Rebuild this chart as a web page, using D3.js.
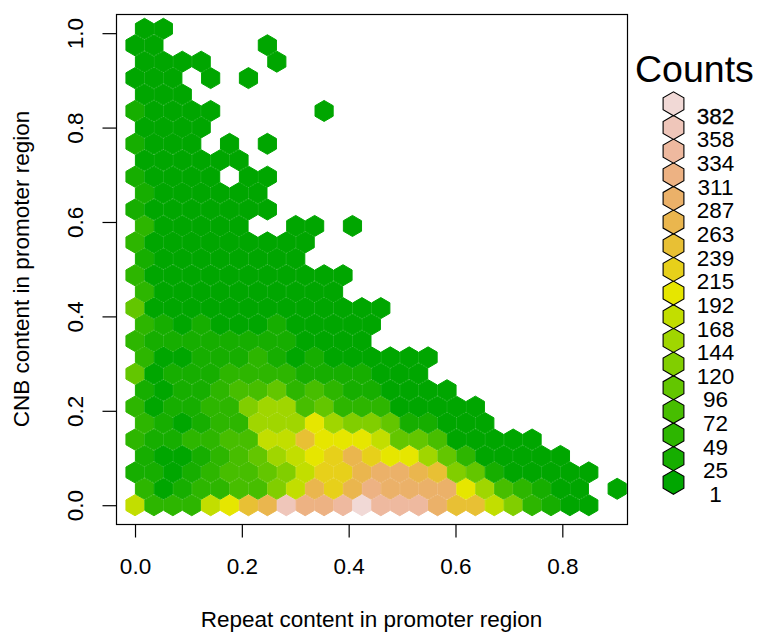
<!DOCTYPE html>
<html>
<head>
<meta charset="utf-8">
<script src="https://cdn.jsdelivr.net/npm/d3@7"></script>
<style>
html,body{margin:0;padding:0;background:#fff;}
text{font-family:"Liberation Sans",Arial,sans-serif;fill:#000;}
</style>
</head>
<body>
<div id="canvas"></div>
<script>
// bin size in data units, column/row of a cell gives its centre
var binWidth = 0.0354,
    binHeight = 0.0348;

var xTicks = [0,0.2,0.4,0.6,0.8];
var yTicks = [0,0.2,0.4,0.6,0.8,1];

// legend breaks, lowest first
var countLabels = [1,25,49,72,96,120,144,168,192,215,239,263,287,311,334,358,382];
var countColors = ['#00A600','#16AE00','#2DB600','#47BE00','#63C600','#81CE00','#A0D600','#C2DE00','#E6E600',
    '#E7D01A','#E8C034','#EAB64E','#EBB169','#EDB283','#EEB99F','#EFC6BA','#F1D9D6'];

// counts per hexagon, rows[0] is the bottom row, 0 = empty cell
var rows = [
    [180,60,60,60,180,204,251,275,370,322,322,346,390,346,346,346,299,251,251,180,132,60,37,12,12],
    [60,12,37,60,60,84,84,132,180,275,227,275,322,299,299,299,299,204,156,84,60,37,12,12,0,12],
    [37,37,12,37,60,84,84,108,132,180,227,227,275,299,299,275,251,132,108,37,12,12,12,12,12],
    [37,12,12,37,60,84,108,156,180,204,227,275,227,204,204,156,108,60,12,12,12,12,12],
    [60,37,37,60,60,84,84,180,180,251,204,204,204,180,108,108,84,12,12,12,12,12],
    [60,37,12,37,60,60,156,156,156,204,156,132,132,108,37,37,12,12,12],
    [60,12,37,37,60,60,132,156,156,84,108,60,60,60,12,12,12,12,12],
    [37,12,37,37,60,84,84,108,60,84,60,37,37,12,12,12,12],
    [108,12,37,37,37,60,60,60,60,37,37,37,37,12,12,12],
    [60,12,12,37,37,37,60,37,12,37,12,12,12,12,12,12],
    [60,37,37,37,37,37,37,37,37,12,12,12,12],
    [60,37,12,37,12,12,12,37,12,12,12,12,12],
    [108,12,12,12,12,12,12,12,12,12,12,12,12,12],
    [60,12,12,12,12,12,12,12,12,12,12],
    [60,12,12,12,12,12,12,12,12,12,12,12],
    [37,12,12,12,12,12,12,12,12],
    [60,12,12,12,12,12,12,12,12,12],
    [60,12,12,12,12,12,0,0,12,12,0,12],
    [37,12,12,12,12,12,12,12],
    [37,12,12,12,12,12,12],
    [37,12,12,12,12,0,12,12],
    [12,12,12,12,12,12],
    [37,12,12,12,0,12,0,12],
    [12,12,12,12],
    [37,12,12,12,12,0,0,0,0,0,12],
    [12,12,12],
    [12,12,12,0,12,0,12],
    [12,12,12,12,0,0,0,12],
    [12,12,0,0,0,0,0,12],
    [12,12]
];

var m = {t:14,r:132,b:113,l:116};
var outerWidth = 759,
    outerHeight = 637;
var w = outerWidth - m.l - m.r,
    h = outerHeight - m.t - m.b;

var svg = d3.select('#canvas')
    .append('svg')
    .attr('width',outerWidth)
    .attr('height',outerHeight)
    .style('display','block');

var plot = svg.append('g')
    .attr('transform','translate(' + m.l + ',' + m.t + ')');

var scaleX = d3.scaleLinear().domain([-0.0356,0.9211]).range([0,w]);
var scaleY = d3.scaleLinear().domain([-0.0398,1.0406]).range([h,0]);
var scaleColor = d3.scaleThreshold().domain(countLabels.slice(1)).range(countColors);

// flatten the rows into cells
var cells = [];
rows.forEach(function(row,r){
    row.forEach(function(count,c){
        if(count > 0){
            cells.push({x:(c + (r % 2) / 2) * binWidth, y:r * binHeight, count:count});
        }
    });
});

// a little smaller than the bin, the stroke closes the seams between neighbours
function hexPath(d){
    var dx = binWidth / 2 * 0.96,
        dy = binHeight * 2 / 3 * 0.96;
    var pts = [[0,dy],[dx,dy/2],[dx,-dy/2],[0,-dy],[-dx,-dy/2],[-dx,dy/2]];
    return 'M' + pts.map(function(p){
        return scaleX(d.x + p[0]) + ',' + scaleY(d.y + p[1]);
    }).join('L') + 'Z';
}

plot.selectAll('.hex')
    .data(cells)
    .enter()
    .append('path')
    .attr('class','hex')
    .attr('d',hexPath)
    .style('fill',function(d){return scaleColor(d.count);})
    .style('stroke',function(d){return scaleColor(d.count);})
    .style('stroke-width',1);

plot.append('rect')
    .attr('x',0.5).attr('y',0.5)
    .attr('width',w).attr('height',h)
    .style('fill','none')
    .style('stroke','#000')
    .style('stroke-width',1.2);

//Axes
var axisX = d3.axisBottom()
    .scale(scaleX)
    .tickValues(xTicks)
    .tickSize(13.5)
    .tickFormat(d3.format('.1f'));

var axisY = d3.axisLeft()
    .scale(scaleY)
    .tickValues(yTicks)
    .tickSize(13.5)
    .tickFormat(d3.format('.1f'));

var axisNodeX = plot.append('g')
    .attr('class','axis axis-x')
    .attr('transform','translate(0,' + h + ')')
    .call(axisX);

var axisNodeY = plot.append('g')
    .attr('class','axis axis-y')
    .call(axisY);

plot.selectAll('.axis .domain').remove();
plot.selectAll('.axis line').style('stroke','#000').style('stroke-width',1.2);

axisNodeX.selectAll('text')
    .attr('y',50)
    .attr('dy',0)
    .style('font-size','22.5px')
    .style('font-family','"Liberation Sans",Arial,sans-serif');

axisNodeY.selectAll('text')
    .attr('x',0)
    .attr('y',0)
    .attr('dy',0)
    .attr('transform',function(d){return 'translate(-33,0) rotate(-90)';})
    .style('text-anchor','middle')
    .style('font-size','22.5px')
    .style('font-family','"Liberation Sans",Arial,sans-serif');

svg.append('text')
    .attr('x',371.5)
    .attr('y',627)
    .style('text-anchor','middle')
    .style('font-size','22.5px')
    .text('Repeat content in promoter region');

svg.append('text')
    .attr('transform','translate(29,269) rotate(-90)')
    .style('text-anchor','middle')
    .style('font-size','22.5px')
    .text('CNB content in promoter region');

//Legend
var legend = svg.append('g').attr('class','legend');

legend.append('text')
    .attr('x',635)
    .attr('y',82)
    .style('font-size','37.5px')
    .text('Counts');

var legendY = d3.scaleLinear().domain([0,countLabels.length - 1]).range([482.3,103.8]);

var legendItems = legend.selectAll('.item')
    .data(countLabels)
    .enter()
    .append('g')
    .attr('class','item')
    .attr('transform',function(d,i){return 'translate(673.5,' + legendY(i) + ')';});

legendItems.append('path')
    .attr('d','M0,12L10.4,6L10.4,-6L0,-12L-10.4,-6L-10.4,6Z')
    .style('fill',function(d,i){return countColors[i];})
    .style('stroke','#000')
    .style('stroke-width',1.1);

legendItems.append('text')
    .attr('x',42)
    .attr('y',19.8)
    .style('text-anchor','middle')
    .style('font-size','22.5px')
    .style('stroke',function(d){return d === 382 ? '#000' : 'none';})
    .style('stroke-width',0.3)
    .text(function(d){return d;});
</script>
</body>
</html>
